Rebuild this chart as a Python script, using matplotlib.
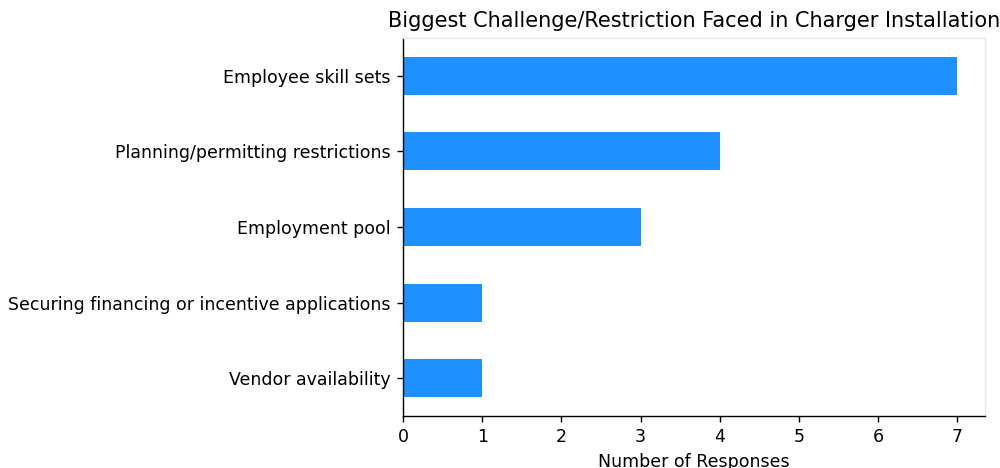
import matplotlib
matplotlib.use('Agg')
import matplotlib.pyplot as plt

categories = ['Vendor availability',
              'Securing financing or incentive applications',
              'Employment pool',
              'Planning/permitting restrictions',
              'Employee skill sets']
responses = [1, 1, 3, 4, 7]

fig = plt.figure(figsize=(8.008, 3.744), dpi=125)
ax = fig.add_axes([0.4026, 0.111, 0.5814, 0.808])
ax.barh(categories, responses, height=0.5, color='#1E90FF')
ax.set_ylim(-0.5, 4.5)
ax.spines['top'].set_color('#e8e8e8')
ax.spines['right'].set_color('#e8e8e8')
ax.set_xlabel('Number of Responses')
ax.set_title('Biggest Challenge/Restriction Faced in Charger Installation')
fig.savefig('out.png', dpi=125)
